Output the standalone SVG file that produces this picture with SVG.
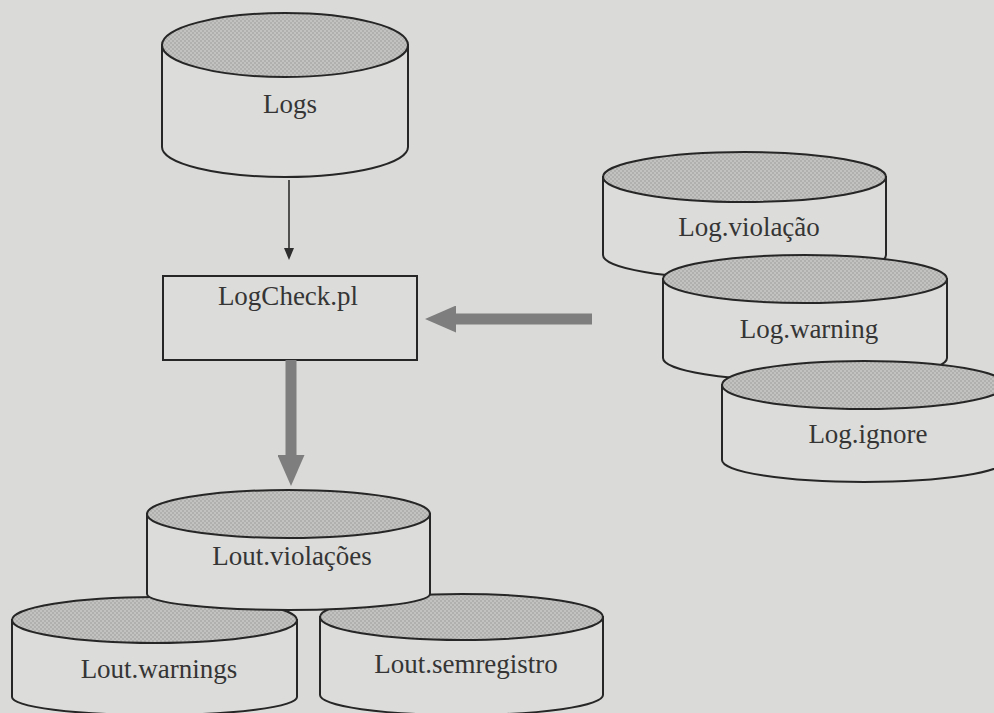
<svg xmlns="http://www.w3.org/2000/svg" width="994" height="713" viewBox="0 0 994 713">
<defs>
<pattern id="hatch" width="4" height="4" patternUnits="userSpaceOnUse">
<rect width="4" height="4" fill="#c2c2c0"/>
<rect x="0" y="0" width="2" height="2" fill="#b0b0ae"/>
<rect x="2" y="2" width="2" height="2" fill="#b0b0ae"/>
</pattern>
<marker id="thinHead" markerUnits="userSpaceOnUse" markerWidth="12" markerHeight="10" viewBox="0 0 12 10" refX="0" refY="5" orient="auto">
<path d="M0,0 L12,5 L0,10 Z" fill="#2e2e2e"/>
</marker>
<marker id="grayHead" markerUnits="userSpaceOnUse" markerWidth="31" markerHeight="27" viewBox="0 0 31 27" refX="0" refY="13.5" orient="auto">
<path d="M0,0 L31,13.5 L0,27 Z" fill="#7e7e7e"/>
</marker>
<style>
.body{fill:#dcdcda;stroke:#262626;stroke-width:2}
.top{fill:url(#hatch);stroke:#262626;stroke-width:2}
.box{fill:#dcdcda;stroke:#262626;stroke-width:2}
.lbl{font-family:"Liberation Serif","Times New Roman",serif;font-size:27px;fill:#353535;text-anchor:middle}
.thin{stroke:#2e2e2e;stroke-width:1.6;fill:none}
.thick{stroke:#7e7e7e;stroke-width:11;fill:none}
</style>
</defs>
<rect width="994" height="713" fill="#dadad8"/>

<g id="logs">
<path class="body" d="M162,45 L162,147 A123,30 0 0 0 408,147 L408,45 Z"/>
<ellipse class="top" cx="285" cy="45" rx="123" ry="32"/>
<text class="lbl" x="290" y="113">Logs</text>
</g>

<g id="logcheck">
<rect class="box" x="163" y="276" width="254" height="84"/>
<text class="lbl" x="288" y="305">LogCheck.pl</text>
</g>

<g id="log-violacao">
<path class="body" d="M603,177 L603,255 A141.5,24 0 0 0 886,255 L886,177 Z"/>
<ellipse class="top" cx="744.5" cy="177" rx="141.5" ry="25"/>
<text class="lbl" x="749" y="236">Log.violação</text>
</g>

<g id="log-warning">
<path class="body" d="M663,279 L663,358 A142,23 0 0 0 947,358 L947,279 Z"/>
<ellipse class="top" cx="805" cy="279" rx="142" ry="24"/>
<text class="lbl" x="809" y="338">Log.warning</text>
</g>

<g id="log-ignore">
<path class="body" d="M722,385 L722,460 A142,22 0 0 0 1006,460 L1006,385 Z"/>
<ellipse class="top" cx="864" cy="385" rx="142" ry="24"/>
<text class="lbl" x="868" y="443">Log.ignore</text>
</g>

<g id="lout-warnings">
<path class="body" d="M12,620 L12,697 A142.5,18 0 0 0 297,697 L297,620 Z"/>
<ellipse class="top" cx="154.5" cy="620" rx="142.5" ry="23"/>
<text class="lbl" x="159" y="678">Lout.warnings</text>
</g>

<g id="lout-semregistro">
<path class="body" d="M320,617 L320,695 A141.5,20 0 0 0 603,695 L603,617 Z"/>
<ellipse class="top" cx="461.5" cy="617" rx="141.5" ry="23"/>
<text class="lbl" x="466" y="673">Lout.semregistro</text>
</g>

<g id="lout-violacoes">
<path class="body" d="M147,514 L147,594 A141.5,16 0 0 0 430,594 L430,514 Z"/>
<ellipse class="top" cx="288.5" cy="514" rx="141.5" ry="24"/>
<text class="lbl" x="292" y="565">Lout.violações</text>
</g>

<g id="connectors">
<line class="thin" x1="289" y1="180" x2="289" y2="248" marker-end="url(#thinHead)"/>
<line class="thick" x1="291" y1="360" x2="291" y2="455" marker-end="url(#grayHead)"/>
<line class="thick" x1="592" y1="319" x2="456" y2="319" marker-end="url(#grayHead)"/>
</g>
</svg>
